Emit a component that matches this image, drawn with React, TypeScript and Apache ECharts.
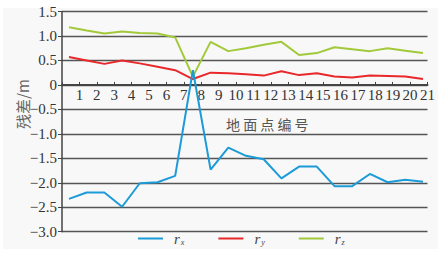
import React, { useEffect, useRef } from "react";
import * as echarts from "echarts";

const pointIds = [1, 2, 3, 4, 5, 6, 7, 8, 9, 10, 11, 12, 13, 14, 15, 16, 17, 18, 19, 20, 21];
const rx = [-2.33, -2.2, -2.2, -2.49, -2.01, -1.99, -1.86, 0.3, -1.73, -1.28, -1.45, -1.52, -1.91, -1.67, -1.67, -2.07, -2.07, -1.82, -1.99, -1.94, -1.98];
const ry = [0.57, 0.5, 0.43, 0.5, 0.44, 0.37, 0.3, 0.12, 0.25, 0.24, 0.22, 0.19, 0.28, 0.2, 0.24, 0.17, 0.15, 0.19, 0.18, 0.17, 0.12];
const rz = [1.18, 1.11, 1.05, 1.09, 1.06, 1.05, 0.97, 0.17, 0.88, 0.69, 0.75, 0.82, 0.88, 0.61, 0.65, 0.77, 0.73, 0.69, 0.75, 0.7, 0.65];
const seriesNames = ["r_x", "r_y", "r_z"];
const seriesSubs = ["x", "y", "z"];
const seriesColors = ["#1c9bd8", "#e8282b", "#a2c93a"];
const yTickMin = -3;
const yTickMax = 1.5;
const yTickStep = 0.5;
const xName = "地 面 点 编 号";
const yName = "残差/m";

const SERIF = "'Liberation Serif', 'DejaVu Serif', serif";

const GRID_TOP = 11.5;
const GRID_BOTTOM = 29.3;
const CHART_H = 261;

export default function App() {
  const ref = useRef<HTMLDivElement>(null);
  useEffect(() => {
    if (!ref.current) return;
    const chart = echarts.init(ref.current, null, { renderer: "svg" });
    const all = [rx, ry, rz];
    const gridH = CHART_H - GRID_TOP - GRID_BOTTOM;
    // shift the category axis up from the grid bottom to the zero line
    const zeroOffset = -(gridH * (0 - yTickMin)) / (yTickMax - yTickMin);
    chart.setOption({
      animation: false,
      backgroundColor: "#ffffff",
      grid: { left: 62, right: 9.5, top: GRID_TOP, bottom: GRID_BOTTOM, containLabel: false },
      graphic: [
        {
          type: "rect",
          z: -10,
          silent: true,
          shape: { x: 3, y: 8, width: 435, height: 241 },
          style: { fill: "#f8f8f8" },
        },
        {
          type: "text",
          x: 22,
          y: 104,
          rotation: Math.PI / 2,
          style: {
            text: yName,
            fontSize: 15,
            fontFamily: "'Noto Sans CJK SC', " + SERIF,
            fill: "#666",
            align: "center",
            verticalAlign: "middle",
          },
        },
        {
          type: "text",
          x: 226,
          y: 124,
          style: {
            text: xName,
            fontSize: 14,
            fontFamily: "'Noto Sans CJK SC', sans-serif",
            fill: "#555",
            align: "left",
            verticalAlign: "middle",
          },
        },
      ],
      legend: {
        data: seriesNames,
        left: 138,
        top: 231,
        padding: 0,
        itemWidth: 25,
        itemHeight: 2,
        itemGap: 34,
        icon: "rect",
        formatter: (name: string) => {
          const i = seriesNames.indexOf(name);
          return "{r|r}{s|" + seriesSubs[i] + "}";
        },
        textStyle: {
          color: "#444",
          rich: {
            r: { fontFamily: SERIF, fontStyle: "italic", fontSize: 15, padding: [0, 0, 0, 6], color: "#444" },
            s: { fontFamily: SERIF, fontStyle: "italic", fontSize: 8, padding: [8, 0, 0, 1], color: "#444" },
          },
        },
      },
      xAxis: [
        {
          type: "value",
          min: 0,
          max: 21,
          interval: 1,
          position: "bottom",
          offset: zeroOffset,
          axisLine: { onZero: false, lineStyle: { color: "#444", width: 2 } },
          axisTick: { show: true, inside: true, length: 3, lineStyle: { color: "#444", width: 1 } },
          axisLabel: {
            interval: 0,
            margin: 3,
            fontSize: 15,
            fontFamily: SERIF,
            color: "#333",
            formatter: (v: number) => (v === 0 ? "" : String(v)),
          },
          splitLine: { show: false },
        },
        {
          type: "value",
          show: false,
          position: "top",
          min: 0.606,
          max: 21.254,
        },
      ],
      yAxis: {
        type: "value",
        min: yTickMin,
        max: yTickMax,
        interval: yTickStep,
        axisLine: { show: true, onZero: false, lineStyle: { color: "#444", width: 1.5 } },
        axisTick: { show: true, length: 4, lineStyle: { color: "#444" } },
        axisLabel: {
          margin: 5,
          fontSize: 15,
          fontFamily: SERIF,
          color: "#333",
          formatter: (v: number) => (v === 0 ? "0" : (v < 0 ? "\u2212" : "") + Math.abs(v).toFixed(1)),
        },
        splitLine: { show: true, lineStyle: { color: "#555", width: 1.3 } },
      },
      series: all.map((vals, si) => ({
        name: seriesNames[si],
        type: "line",
        xAxisIndex: 1,
        symbol: "none",
        data: pointIds.map((id, i) => [id, vals[i]]),
        lineStyle: { color: seriesColors[si], width: 2 },
        itemStyle: { color: seriesColors[si] },
        z: si === 0 ? 3 : 2,
      })),
    });
    return () => chart.dispose();
  }, []);
  return <div ref={ref} style={{ position: "fixed", left: 0, top: 0, width: 438, height: 261 }} />;
}
